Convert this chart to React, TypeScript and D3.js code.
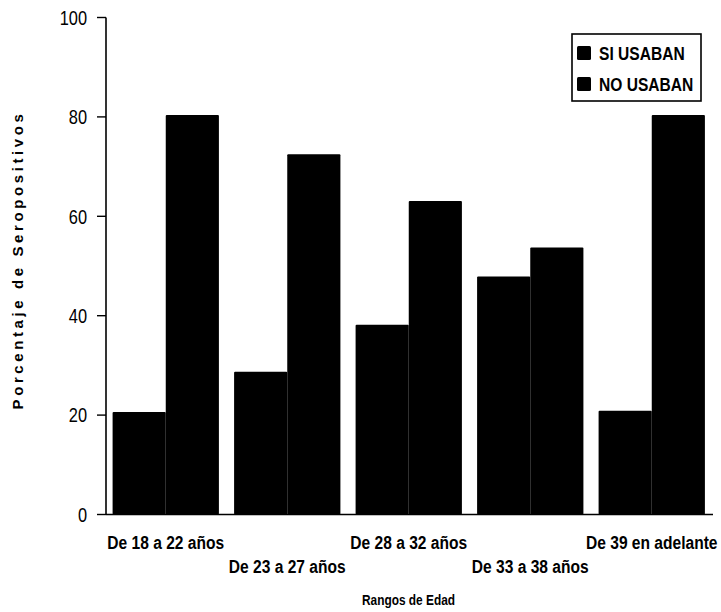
import React from "react";
import * as d3 from "d3";

// Age ranges and seropositive percentages by condom use
const categories = [
  "De 18 a 22 años",
  "De 23 a 27 años",
  "De 28 a 32 años",
  "De 33 a 38 años",
  "De 39 en adelante",
];
const seriesNames = ["SI USABAN", "NO USABAN"];
const siUsaban = [20.6, 28.7, 38.2, 47.9, 20.9];
const noUsaban = [80.4, 72.5, 63.1, 53.7, 80.4];
const yTicks = [0, 20, 40, 60, 80, 100];

const W = 721;
const H = 612;
const FONT = "'Liberation Sans', Arial, sans-serif";
const CONDENSE = 0.82;

// Text drawn with a horizontally condensed sans face
function NarrowText({
  x,
  y,
  anchor = "start",
  size,
  bold = false,
  dy,
  children,
}: {
  x: number;
  y: number;
  anchor?: "start" | "middle" | "end";
  size: number;
  bold?: boolean;
  dy?: string;
  children: React.ReactNode;
}) {
  return (
    <text
      transform={`translate(${x},${y}) scale(${CONDENSE},1)`}
      dy={dy}
      textAnchor={anchor}
      fontFamily={FONT}
      fontWeight={bold ? "bold" : "normal"}
      fontSize={size}
      fill="#000"
    >
      {children}
    </text>
  );
}

export default function App() {
  const axisX = 106;
  const y = d3.scaleLinear().domain([0, 100]).range([514.5, 17.5]);
  const x = d3
    .scaleBand<string>()
    .domain(categories)
    .range([105, 712.5])
    .paddingInner(0.125)
    .paddingOuter(0.0625);
  const inner = d3
    .scaleBand<string>()
    .domain(seriesNames)
    .range([0, x.bandwidth()]);
  const values = [siUsaban, noUsaban];

  return (
    <svg
      width={W}
      height={H}
      style={{ position: "absolute", left: 0, top: 0, background: "#fff" }}
    >
      {/* bars */}
      {categories.map((c, i) => (
        <g key={c} transform={`translate(${x(c)},0)`}>
          {seriesNames.map((s, k) => (
            <rect
              key={s}
              x={inner(s)}
              y={y(values[k][i])}
              width={inner.bandwidth()}
              height={y(0) - y(values[k][i])}
              fill="#000"
              rx={1}
            />
          ))}
        </g>
      ))}

      {/* y axis */}
      <line x1={axisX} x2={axisX} y1={y(100)} y2={y(0)} stroke="#000" strokeWidth={1.6} />
      {yTicks.map((t) => (
        <g key={t}>
          <line x1={axisX - 9} x2={axisX} y1={y(t)} y2={y(t)} stroke="#000" strokeWidth={1.4} />
          <NarrowText x={axisX - 19} y={y(t)} dy="0.36em" anchor="end" size={20}>
            {t}
          </NarrowText>
        </g>
      ))}

      {/* x axis */}
      <line x1={axisX} x2={713} y1={y(0)} y2={y(0)} stroke="#000" strokeWidth={1.4} />
      {categories.map((c, i) => (
        <NarrowText
          key={c}
          x={(x(c) as number) + x.bandwidth() / 2}
          y={y(0) + (i % 2 === 0 ? 34.5 : 58.5)}
          anchor="middle"
          size={19}
          bold
        >
          {c}
        </NarrowText>
      ))}

      {/* axis titles */}
      <NarrowText x={408.5} y={605} anchor="middle" size={14.5} bold>
        Rangos de Edad
      </NarrowText>
      <text
        transform="translate(23,260) rotate(-90)"
        textAnchor="middle"
        fontFamily={FONT}
        fontWeight="bold"
        fontSize={15}
        letterSpacing={3.6}
        fill="#000"
      >
        Porcentaje de Seropositivos
      </text>

      {/* legend */}
      <rect x={572} y={34} width={129} height={67} fill="#fff" stroke="#000" strokeWidth={1.6} />
      {seriesNames.map((s, k) => (
        <g key={s}>
          <rect x={577} y={46 + k * 31} width={14} height={14} fill="#000" rx={1.5} />
          <NarrowText x={599} y={53 + k * 31} dy="0.36em" size={19} bold>
            {s}
          </NarrowText>
        </g>
      ))}
    </svg>
  );
}
